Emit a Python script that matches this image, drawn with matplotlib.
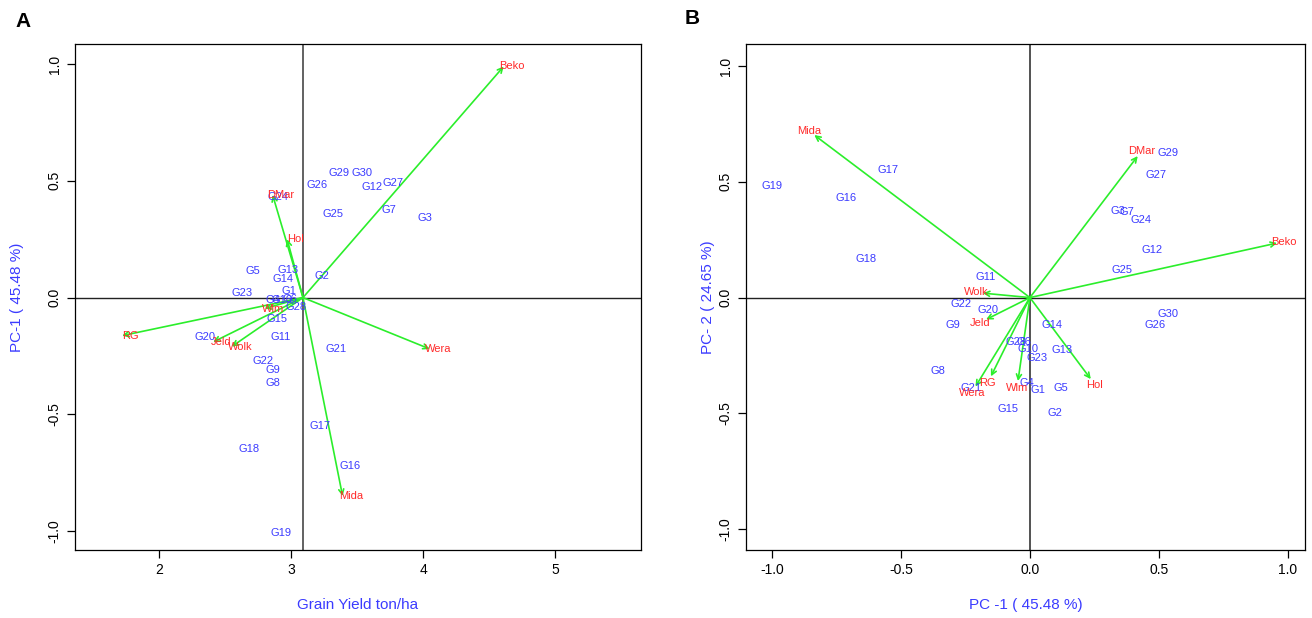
import numpy as np
import matplotlib.pyplot as plt

plt.rcParams['font.family'] = ['Liberation Sans', 'DejaVu Sans']

# genotype scores, panel A (grain yield vs PC1)
gen_a = ['G1', 'G2', 'G3', 'G4', 'G5', 'G6', 'G7', 'G8', 'G9', 'G10',
         'G11', 'G12', 'G13', 'G14', 'G15', 'G16', 'G17', 'G18', 'G19', 'G20',
         'G21', 'G22', 'G23', 'G24', 'G25', 'G26', 'G27', 'G28', 'G29', 'G30']
gy_a = [2.98, 3.23, 4.01, 2.86, 2.71, 2.99, 3.74, 2.86, 2.86, 2.93,
        2.92, 3.61, 2.98, 2.94, 2.89, 3.45, 3.22, 2.68, 2.92, 2.35,
        3.34, 2.79, 2.63, 2.90, 3.32, 3.20, 3.77, 3.04, 3.36, 3.54]
pc1_a = [0.03, 0.094, 0.34, -0.01, 0.116, -0.005, 0.377, -0.364, -0.31, -0.01,
         -0.17, 0.475, 0.12, 0.081, -0.09, -0.72, -0.55, -0.65, -1.006, -0.167,
         -0.22, -0.27, 0.02, 0.43, 0.36, 0.484, 0.49, -0.04, 0.535, 0.535]

# environments, panel A (arrow tips)
env_a = ['Beko', 'DMar', 'Hol', 'RG', 'Jeld', 'Wolk', 'Wera', 'Mida', 'Wlm']
env_gy_a = [4.61, 2.86, 2.97, 1.72, 2.41, 2.55, 4.05, 3.39, 2.80]
env_pc1_a = [0.99, 0.44, 0.25, -0.163, -0.19, -0.21, -0.22, -0.85, -0.047]
mean_gy = 3.09

# panel B (PC1 vs PC2)
gen_b = ['G1', 'G2', 'G3', 'G4', 'G5', 'G6', 'G7', 'G8', 'G9', 'G10',
         'G11', 'G12', 'G13', 'G14', 'G15', 'G16', 'G17', 'G18', 'G19', 'G20',
         'G21', 'G22', 'G23', 'G24', 'G25', 'G26', 'G27', 'G28', 'G29', 'G30']
pc1_b = [0.031, 0.097, 0.34, -0.012, 0.12, -0.023, 0.375, -0.357, -0.30, -0.008,
         -0.17, 0.473, 0.124, 0.085, -0.085, -0.713, -0.55, -0.636, -1.0, -0.163,
         -0.229, -0.267, 0.027, 0.43, 0.357, 0.485, 0.488, -0.054, 0.535, 0.535]
pc2_b = [-0.40, -0.497, 0.375, -0.367, -0.39, -0.19, 0.37, -0.315, -0.12, -0.22,
         0.09, 0.207, -0.225, -0.12, -0.48, 0.432, 0.55, 0.168, 0.48, -0.052,
         -0.39, -0.026, -0.26, 0.337, 0.12, -0.117, 0.53, -0.19, 0.626, -0.07]

env_b = ['Mida', 'DMar', 'Beko', 'Wolk', 'Jeld', 'Hol', 'Wlm', 'RG', 'Wera']
env_pc1_b = [-0.857, 0.434, 0.984, -0.209, -0.194, 0.252, -0.05, -0.163, -0.225]
env_pc2_b = [0.72, 0.635, 0.242, 0.022, -0.108, -0.376, -0.39, -0.367, -0.41]

blue = '#3b3bff'
red = '#ff2a2a'
green = '#2bee2b'

fig = plt.figure(figsize=(13.12, 6.18), dpi=100)
axA = fig.add_axes([0.0572, 0.110, 0.4314, 0.8188])
axB = fig.add_axes([0.5686, 0.110, 0.4261, 0.8188])

def style(ax):
    ax.tick_params(direction='out', length=6, labelsize=10, width=0.9)
    for lab in ax.get_yticklabels():
        lab.set_rotation(90)
        lab.set_va('center')
    for s in ax.spines.values():
        s.set_linewidth(0.9)

# ---- panel A
axA.axvline(mean_gy, color='#555555', lw=1.3, zorder=1)
axA.axhline(0, color='#222222', lw=1.0, zorder=1)
for x, y in zip(env_gy_a, env_pc1_a):
    axA.annotate('', xy=(x, y), xytext=(mean_gy, 0),
                 arrowprops=dict(arrowstyle='->', color=green, lw=1.2,
                                 shrinkA=0, shrinkB=0, mutation_scale=9))
for name, x, y in zip(gen_a, gy_a, pc1_a):
    axA.text(x, y, name, color=blue, fontsize=8, ha='center', va='center')
for name, x, y in zip(env_a, env_gy_a, env_pc1_a):
    axA.annotate(name, xy=(x, y), xytext=(6, 0), textcoords='offset points',
                 color=red, fontsize=8, ha='center', va='center')
axA.set_xlim(1.364, 5.65)
axA.set_ylim(-1.081, 1.086)
axA.set_xticks([2, 3, 4, 5])
axA.set_yticks([-1.0, -0.5, 0.0, 0.5, 1.0])
axA.set_yticklabels(['-1.0', '-0.5', '0.0', '0.5', '1.0'])
axA.set_xlabel('Grain Yield ton/ha', color=blue, fontsize=11)
axA.set_ylabel('PC-1 ( 45.48 %)', color=blue, fontsize=11)
axA.xaxis.set_label_coords(0.5, -0.095)
axA.yaxis.set_label_coords(-0.090, 0.5)
style(axA)

# ---- panel B
axB.axvline(0, color='#444444', lw=1.3, zorder=1)
axB.axhline(0, color='#222222', lw=1.0, zorder=1)
for x, y in zip(env_pc1_b, env_pc2_b):
    axB.annotate('', xy=(x, y), xytext=(0, 0),
                 arrowprops=dict(arrowstyle='->', color=green, lw=1.2,
                                 shrinkA=0, shrinkB=5, mutation_scale=9))
for name, x, y in zip(gen_b, pc1_b, pc2_b):
    axB.text(x, y, name, color=blue, fontsize=8, ha='center', va='center')
for name, x, y in zip(env_b, env_pc1_b, env_pc2_b):
    axB.text(x, y, name, color=red, fontsize=8, ha='center', va='center')
axB.set_xlim(-1.10, 1.066)
axB.set_ylim(-1.09, 1.095)
axB.set_xticks([-1.0, -0.5, 0.0, 0.5, 1.0])
axB.set_xticklabels(['-1.0', '-0.5', '0.0', '0.5', '1.0'])
axB.set_yticks([-1.0, -0.5, 0.0, 0.5, 1.0])
axB.set_yticklabels(['-1.0', '-0.5', '0.0', '0.5', '1.0'])
axB.set_xlabel('PC -1 ( 45.48 %)', color=blue, fontsize=11)
axB.set_ylabel('PC- 2 ( 24.65 %)', color=blue, fontsize=11)
axB.xaxis.set_label_coords(0.5, -0.095)
axB.yaxis.set_label_coords(-0.056, 0.5)
style(axB)

fig.text(0.012, 0.966, 'A', fontsize=15, fontweight='bold', va='center')
fig.text(0.522, 0.970, 'B', fontsize=15, fontweight='bold', va='center')

fig.savefig('out.png', dpi=100)
